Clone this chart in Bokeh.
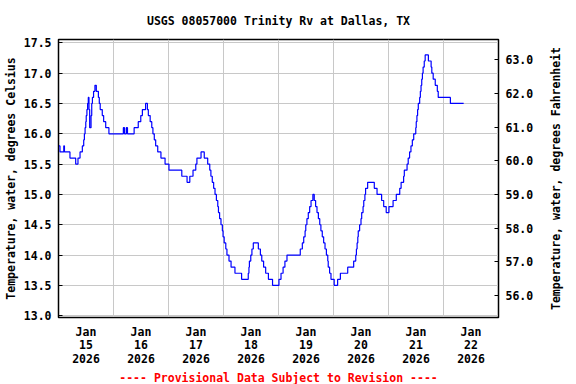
import pandas as pd
from bokeh.plotting import figure
from bokeh.layouts import row
from bokeh.models import FixedTicker, LinearAxis, Range1d, Title, NumeralTickFormatter, ColumnDataSource
from bokeh.embed import file_html
from bokeh.resources import INLINE

# ---- data (hours after 2026-01-15 00:00, water temperature in deg C, step changes) ----
hours = [0.0, 0.65, 2.3, 2.6, 5.0, 7.5, 8.5, 9.4, 10.4, 11.0, 11.3, 11.6, 11.9, 12.1, 12.4, 12.7,
         13.0, 13.3, 13.6, 14.2, 14.5, 14.8, 15.3, 15.9, 16.5, 17.4, 17.8, 18.2, 19.1, 19.7, 20.6,
         22.0, 28.3, 28.8, 29.6, 30.1, 33.0, 34.8, 35.9, 36.6, 38.0, 38.8, 39.2, 40.0, 40.7, 41.2,
         41.8, 42.4, 43.3, 44.7, 46.5, 48.2, 53.8, 56.1, 57.3, 58.7, 59.9, 60.4, 62.2, 63.6, 65.1,
         66.0, 66.5, 67.1, 67.7, 68.3, 68.9, 69.5, 69.8, 70.3, 70.9, 71.5, 71.8, 72.3, 73.0, 73.5,
         74.4, 75.3, 77.0, 79.9, 82.8, 83.1, 83.3, 83.9, 84.4, 85.0, 87.2, 88.1, 88.7, 89.5, 90.4,
         91.6, 93.4, 96.2, 97.1, 98.0, 98.8, 99.7, 105.5, 106.4, 107.0, 107.6, 107.9, 108.4, 109.0,
         109.6, 110.2, 111.0, 111.6, 112.2, 112.8, 113.4, 114.0, 114.5, 115.1, 115.7, 116.3, 116.9,
         117.5, 117.7, 118.3, 118.9, 120.3, 121.8, 123.0, 126.2, 128.8, 129.7, 130.0, 130.3, 130.6,
         130.8, 131.4, 132.0, 132.3, 132.9, 133.2, 133.7, 134.0, 134.9, 137.8, 139.0, 141.0, 141.9,
         143.0, 144.2, 146.0, 147.4, 148.9, 149.5, 150.6, 150.9, 152.1, 152.6, 153.2, 153.8, 154.4,
         155.0, 155.9, 156.1, 156.4, 156.7, 157.0, 157.6, 157.9, 158.2, 158.5, 158.8, 159.1, 159.6,
         160.0, 161.4, 162.6, 162.9, 163.5, 164.4, 165.3, 165.7, 171.0, 176.8]
temp_c = [15.8, 15.7, 15.8, 15.7, 15.6, 15.5, 15.6, 15.7, 15.8, 15.9, 16.0, 16.1, 16.2, 16.3, 16.4, 16.5,
          16.6, 16.4, 16.1, 16.3, 16.5, 16.6, 16.7, 16.8, 16.7, 16.6, 16.5, 16.4, 16.3, 16.2, 16.1,
          16.0, 16.1, 16.0, 16.1, 16.0, 16.1, 16.2, 16.3, 16.4, 16.5, 16.4, 16.3, 16.2, 16.1, 16.0,
          15.9, 15.8, 15.7, 15.6, 15.5, 15.4, 15.3, 15.2, 15.3, 15.4, 15.5, 15.6, 15.7, 15.6, 15.5,
          15.4, 15.3, 15.2, 15.1, 15.0, 14.9, 14.8, 14.7, 14.6, 14.5, 14.4, 14.3, 14.2, 14.1, 14.0,
          13.9, 13.8, 13.7, 13.6, 13.7, 13.8, 13.9, 14.0, 14.1, 14.2, 14.1, 14.0, 13.9, 13.8, 13.7,
          13.6, 13.5, 13.6, 13.7, 13.8, 13.9, 14.0, 14.1, 14.2, 14.3, 14.4, 14.5, 14.6, 14.7,
          14.8, 14.9, 15.0, 14.9, 14.8, 14.7, 14.6, 14.5, 14.4, 14.3, 14.2, 14.1, 14.0,
          13.9, 13.8, 13.7, 13.6, 13.5, 13.6, 13.7, 13.8, 13.9, 14.0, 14.1, 14.2, 14.3,
          14.4, 14.5, 14.6, 14.7, 14.8, 14.9, 15.0, 15.1, 15.2, 15.1, 15.0, 14.9, 14.8,
          14.7, 14.8, 14.9, 15.0, 15.1, 15.2, 15.3, 15.4, 15.5, 15.6, 15.7, 15.8, 15.9,
          16.0, 16.1, 16.2, 16.3, 16.4, 16.5, 16.6, 16.7, 16.8, 16.9, 17.0, 17.1, 17.2,
          17.3, 17.2, 17.1, 17.0, 16.9, 16.8, 16.7, 16.6, 16.5, 16.5]

day_boundaries = ["2026-01-15", "2026-01-16", "2026-01-17", "2026-01-18", "2026-01-19",
                  "2026-01-20", "2026-01-21", "2026-01-22", "2026-01-23"]
day_labels = ["Jan\n15\n2026", "Jan\n16\n2026", "Jan\n17\n2026", "Jan\n18\n2026",
              "Jan\n19\n2026", "Jan\n20\n2026", "Jan\n21\n2026", "Jan\n22\n2026"]
c_ticks = [13.0, 13.5, 14.0, 14.5, 15.0, 15.5, 16.0, 16.5, 17.0, 17.5]
f_ticks = [56.0, 57.0, 58.0, 59.0, 60.0, 61.0, 62.0, 63.0]
c_min, c_max = 12.97, 17.555

title_text = "USGS 08057000 Trinity Rv at Dallas, TX"
left_label = "Temperature, water, degrees Celsius"
right_label = "Temperature, water, degrees Fahrenheit"
footer_text = "---- Provisional Data Subject to Revision ----"

# ---- build ----
start = pd.Timestamp("2026-01-15")
times = start + pd.to_timedelta(hours, unit="h")
src = ColumnDataSource(dict(t=times, c=temp_c))

def ms(ts):
    return float(pd.Timestamp(ts).value // 10**6)

bounds_ms = [ms(d) for d in day_boundaries]
noon_ms = [b + 12 * 3600 * 1000 for b in bounds_ms[:-1]]

FONT = "DejaVu Sans Mono"
FS = "11.5px"
TOP, BOTTOM, H = 39, 67, 384

p = figure(width=546, height=H, x_axis_type="datetime",
           x_range=Range1d(bounds_ms[0], bounds_ms[-1]),
           y_range=Range1d(c_min, c_max),
           output_backend="svg", toolbar_location=None,
           min_border_left=58, min_border_right=48, min_border_top=TOP, min_border_bottom=BOTTOM)

p.title.text = title_text
p.title.align = "center"
p.title.text_font = FONT
p.title.text_font_size = FS
p.title.text_font_style = "bold"
p.title.text_color = "black"
p.title.standoff = 23

p.outline_line_color = "black"
p.outline_line_width = 1.5
p.background_fill_color = "white"
p.border_fill_color = "white"

p.step("t", "c", source=src, mode="after", line_color="#0000ff", line_width=1.2)

# x axis: labels at noon, grid at midnight
xa = p.xaxis[0]
xa.ticker = FixedTicker(ticks=noon_ms)
xa.major_label_overrides = {t: lab for t, lab in zip(noon_ms, day_labels)}
xa.major_tick_in = 0
xa.major_tick_out = 0
xa.minor_tick_in = 0
xa.minor_tick_out = 0
xa.major_label_standoff = 7
xa.major_label_text_font = FONT
xa.major_label_text_font_size = FS
xa.major_label_text_font_style = "bold"
xa.major_label_text_color = "black"
xa.major_label_text_line_height = 0.98
xa.axis_line_color = "black"
p.xgrid.ticker = FixedTicker(ticks=bounds_ms[1:-1])
p.xgrid.grid_line_color = "#c8c8c8"

# left axis (Celsius)
ya = p.yaxis[0]
ya.ticker = FixedTicker(ticks=c_ticks)
ya.formatter = NumeralTickFormatter(format="0.0")
ya.major_tick_in = 4
ya.major_tick_out = 0
ya.minor_tick_in = 0
ya.minor_tick_out = 0
ya.major_label_standoff = 7
ya.major_label_text_font = FONT
ya.major_label_text_font_size = FS
ya.major_label_text_font_style = "bold"
ya.major_label_text_color = "black"
ya.axis_label = left_label
ya.axis_label_text_font = FONT
ya.axis_label_text_font_size = FS
ya.axis_label_text_font_style = "bold"
ya.axis_label_text_color = "black"
ya.axis_label_standoff = 3
ya.axis_line_color = "black"
p.ygrid.grid_line_color = "#c8c8c8"

# right axis (Fahrenheit)
p.extra_y_ranges = {"f": Range1d(c_min * 1.8 + 32, c_max * 1.8 + 32)}
ra = LinearAxis(y_range_name="f", ticker=FixedTicker(ticks=f_ticks),
                formatter=NumeralTickFormatter(format="0.0"))
ra.major_tick_in = 4
ra.major_tick_out = 0
ra.minor_tick_in = 0
ra.minor_tick_out = 0
ra.major_label_standoff = 7
ra.major_label_text_font = FONT
ra.major_label_text_font_size = FS
ra.major_label_text_font_style = "bold"
ra.major_label_text_color = "black"
ra.axis_line_color = "black"
p.add_layout(ra, "right")

footer = Title(text=footer_text, align="center", text_color="#ff0000", text_font=FONT,
               text_font_size=FS, text_font_style="bold", standoff=0)
p.add_layout(footer, "below")

# narrow strip carrying the right-hand axis title, reading bottom-to-top
q = figure(width=18, height=H, output_backend="svg", toolbar_location=None,
           title=right_label, title_location="left",
           min_border_left=0, min_border_right=0, min_border_top=TOP, min_border_bottom=BOTTOM)
q.title.align = "center"
q.title.text_font = FONT
q.title.text_font_size = FS
q.title.text_font_style = "bold"
q.title.text_color = "black"
q.title.standoff = 0
q.axis.visible = False
q.grid.visible = False
q.outline_line_color = None
q.background_fill_color = "white"
q.border_fill_color = "white"

open("out.html", "w").write(file_html(row(p, q), INLINE))
